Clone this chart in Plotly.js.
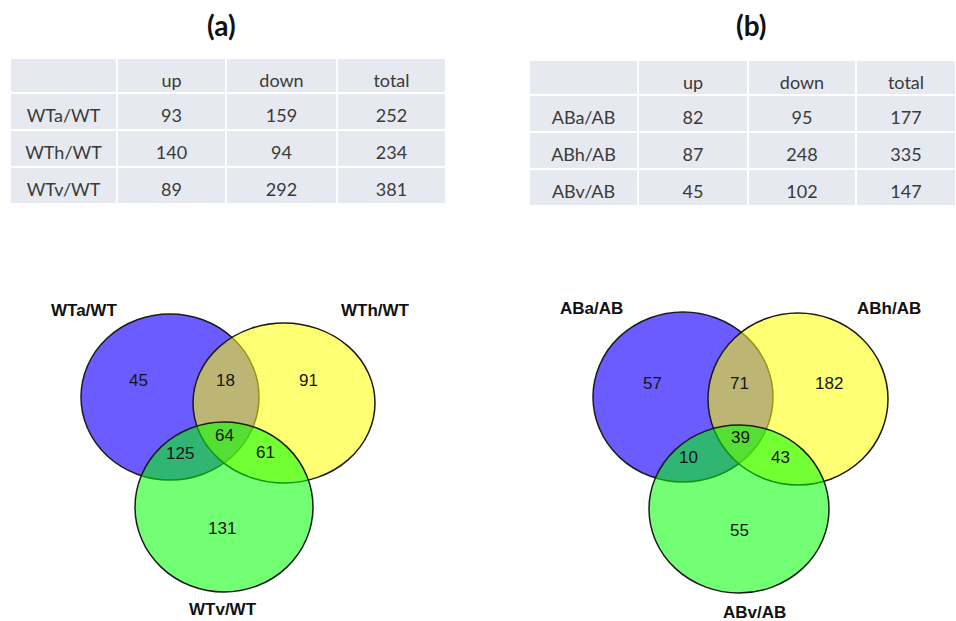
<!DOCTYPE html>
<html>
<head>
<meta charset="utf-8">
<script src="https://cdn.plot.ly/plotly-3.0.1.min.js"></script>
<style>
  html, body { margin: 0; padding: 0; background: #ffffff; }
  #chart { width: 956px; height: 621px; }
</style>
</head>
<body>
<div id="chart"></div>
<script>
// ---- table data: differentially expressed gene counts ----
const columnHeaders = ['', 'up', 'down', 'total'];

const rowsA  = ['WTa/WT', 'WTh/WT', 'WTv/WT'];
const upA    = [93, 140, 89];
const downA  = [159, 94, 292];
const totalA = [252, 234, 381];

const rowsB  = ['ABa/AB', 'ABh/AB', 'ABv/AB'];
const upB    = [82, 87, 45];
const downB  = [95, 248, 102];
const totalB = [177, 335, 147];

// ---- Venn data: region counts ordered [a, h, v, a∩h, a∩v, h∩v, a∩h∩v] ----
const setsA    = ['WTa/WT', 'WTh/WT', 'WTv/WT'];
const regionsA = [45, 91, 131, 18, 125, 61, 64];

const setsB    = ['ABa/AB', 'ABh/AB', 'ABv/AB'];
const regionsB = [57, 182, 55, 71, 10, 43, 39];

const panelTitles = ['(a)', '(b)'];

// ---- layout geometry (pixel space of a 956 x 621 canvas) ----
const W = 956, H = 621;
const tableFill = '#e7e9f1';
const textFont = 'Lato, "Open Sans", sans-serif';
const vennFont = '"Liberation Sans", Arial, sans-serif';
const textDrop = 7;   // pushes the cell text down so it sits mid-cell

const panels = [
  {
    rows: rowsA, up: upA, down: downA, total: totalA,
    sets: setsA, regions: regionsA, title: panelTitles[0],
    tableX: [10, 446], tableTop: 58, colW: [107, 109, 111, 109], titleAt: [221, 25],
    ellipses: [
      { cx: 170, cy: 397, rx: 89, ry: 83 },
      { cx: 284, cy: 403, rx: 91, ry: 80 },
      { cx: 224, cy: 507, rx: 89, ry: 85 }
    ],
    labelAt: [[84, 310], [375, 310], [223, 609]],
    regionAt: [[138, 380], [308, 380], [222, 528], [225, 380], [180, 453], [265, 452], [224, 435]]
  },
  {
    rows: rowsB, up: upB, down: downB, total: totalB,
    sets: setsB, regions: regionsB, title: panelTitles[1],
    tableX: [529, 956], tableTop: 60, colW: [109, 110, 108, 100], titleAt: [751, 25],
    ellipses: [
      { cx: 683, cy: 397, rx: 90, ry: 85 },
      { cx: 798, cy: 399, rx: 90, ry: 86 },
      { cx: 739, cy: 509, rx: 90, ry: 84 }
    ],
    labelAt: [[591, 308], [889, 308], [754, 612]],
    regionAt: [[652, 383], [829, 383], [739, 530], [739, 383], [688, 457], [780, 457], [740, 437]]
  }
];

// circle fills, stacked blue -> yellow -> green so overlaps blend
const circleFills = ['rgba(107,92,255,1)', 'rgba(255,255,0,0.55)', 'rgba(0,255,0,0.55)'];

const traces = [];
const shapes = [];
const annotations = [];

panels.forEach(p => {
  const blank = p.rows.map(() => '');
  // cell backgrounds and white grid
  traces.push({
    type: 'table',
    domain: { x: [p.tableX[0] / W, p.tableX[1] / W], y: [0.3, 1 - p.tableTop / H] },
    columnwidth: p.colW,
    header: {
      values: columnHeaders.map(() => ''),
      height: 35,
      fill: { color: tableFill },
      line: { color: '#ffffff', width: 2 }
    },
    cells: {
      values: [blank, blank, blank, blank],
      height: 37,
      fill: { color: tableFill },
      line: { color: '#ffffff', width: 2 }
    }
  });
  // cell text
  traces.push({
    type: 'table',
    domain: { x: [p.tableX[0] / W, p.tableX[1] / W], y: [0.25, 1 - (p.tableTop + textDrop) / H] },
    columnwidth: p.colW,
    header: {
      values: columnHeaders,
      align: 'center',
      height: 35,
      fill: { color: 'rgba(0,0,0,0)' },
      line: { color: 'rgba(0,0,0,0)', width: 0 },
      font: { family: textFont, size: 18, color: '#3a3a3a' }
    },
    cells: {
      values: [p.rows, p.up, p.down, p.total],
      align: 'center',
      height: 37,
      fill: { color: 'rgba(0,0,0,0)' },
      line: { color: 'rgba(0,0,0,0)', width: 0 },
      font: { family: textFont, size: 18, color: '#3a3a3a' }
    }
  });

  annotations.push({
    x: p.titleAt[0], y: p.titleAt[1], xref: 'x', yref: 'y',
    text: '<b>' + p.title + '</b>', showarrow: false,
    font: { family: textFont, size: 28, color: '#111111' }
  });

  p.ellipses.forEach((e, i) => {
    shapes.push({
      type: 'circle', xref: 'x', yref: 'y', layer: 'above',
      x0: e.cx - e.rx, x1: e.cx + e.rx, y0: e.cy - e.ry, y1: e.cy + e.ry,
      fillcolor: circleFills[i],
      line: { color: '#1a1a1a', width: 1.5 }
    });
  });

  p.sets.forEach((name, i) => {
    annotations.push({
      x: p.labelAt[i][0], y: p.labelAt[i][1], xref: 'x', yref: 'y',
      text: '<b>' + name + '</b>', showarrow: false,
      font: { family: vennFont, size: 17, color: '#111111' }
    });
  });

  p.regions.forEach((n, i) => {
    annotations.push({
      x: p.regionAt[i][0], y: p.regionAt[i][1], xref: 'x', yref: 'y',
      text: String(n), showarrow: false,
      font: { family: vennFont, size: 17, color: '#151515' }
    });
  });
});

// invisible scatter anchoring the pixel-space axes
traces.push({ type: 'scatter', x: [0, W], y: [0, H], mode: 'markers', marker: { opacity: 0 }, hoverinfo: 'skip', showlegend: false });

const layout = {
  width: W, height: H,
  margin: { l: 0, r: 0, t: 0, b: 0 },
  paper_bgcolor: '#ffffff', plot_bgcolor: 'rgba(0,0,0,0)',
  showlegend: false,
  xaxis: { range: [0, W], visible: false, fixedrange: true },
  yaxis: { range: [H, 0], visible: false, fixedrange: true },
  shapes: shapes,
  annotations: annotations
};

Plotly.newPlot('chart', traces, layout, { displayModeBar: false, staticPlot: true });
</script>
</body>
</html>
